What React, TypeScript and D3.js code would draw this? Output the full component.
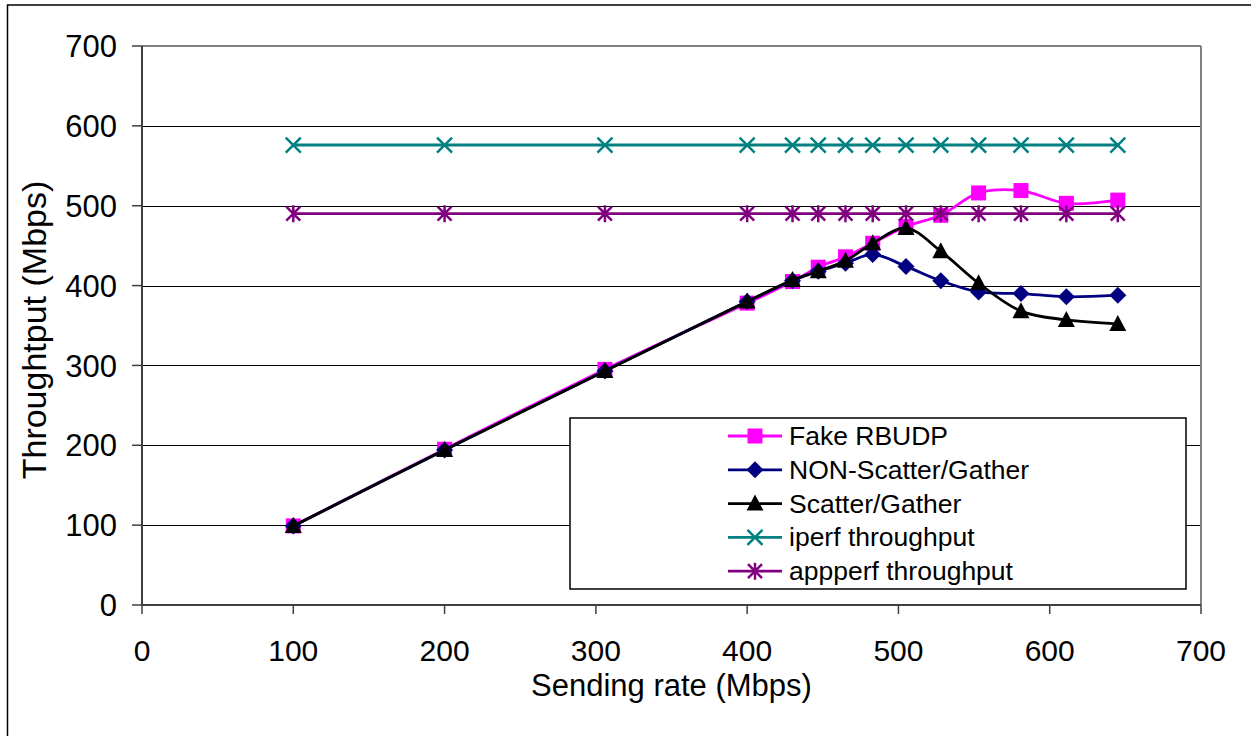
import React from "react";
import * as d3 from "d3";

const sendingRate = [100, 200, 306, 400, 430, 447, 465, 483, 505, 528, 553, 581, 611, 645];
const fakeRBUDP = [99, 195, 295, 378, 405, 423, 436, 453, 474, 488, 516, 519, 503, 507];
const nonScatterGather = [99, 194, 293, 380, 406, 418, 428, 439, 424, 406, 392, 390, 386, 388];
const scatterGather = [99, 194, 293, 380, 407, 418, 431, 453, 472, 443, 403, 368, 357, 352];
const iperfThroughput = [576, 576, 576, 576, 576, 576, 576, 576, 576, 576, 576, 576, 576, 576];
const appperfThroughput = [490, 490, 490, 490, 490, 490, 490, 490, 490, 490, 490, 490, 490, 490];

const xTicks = [0, 100, 200, 300, 400, 500, 600, 700];
const yTicks = [0, 100, 200, 300, 400, 500, 600, 700];

const seriesNames = ["Fake RBUDP", "NON-Scatter/Gather", "Scatter/Gather", "iperf throughput", "appperf throughput"];
const seriesValues = [fakeRBUDP, nonScatterGather, scatterGather, iperfThroughput, appperfThroughput];
const seriesColors = ["#FF00FF", "#000080", "#000000", "#008080", "#800080"];
const seriesMarkers = ["square", "diamond", "triangle", "x", "star"];

const FONT = "'Liberation Sans', Arial, sans-serif";

function Marker({ kind, x, y, color }: { kind: string; x: number; y: number; color: string }) {
  if (kind === "square") {
    return <rect x={x - 7.5} y={y - 7.5} width={15} height={15} fill={color} />;
  }
  if (kind === "diamond") {
    return <path d={`M${x},${y - 8.5}L${x + 8.5},${y}L${x},${y + 8.5}L${x - 8.5},${y}Z`} fill={color} />;
  }
  if (kind === "triangle") {
    return <path d={`M${x},${y - 9}L${x + 8.5},${y + 7}L${x - 8.5},${y + 7}Z`} fill={color} />;
  }
  if (kind === "x") {
    return (
      <path
        d={`M${x - 7.5},${y - 7.5}L${x + 7.5},${y + 7.5}M${x - 7.5},${y + 7.5}L${x + 7.5},${y - 7.5}`}
        stroke={color}
        strokeWidth={2.5}
        fill="none"
      />
    );
  }
  return (
    <path
      d={`M${x - 7},${y - 7}L${x + 7},${y + 7}M${x - 7},${y + 7}L${x + 7},${y - 7}M${x},${y - 8.5}L${x},${y + 8.5}`}
      stroke={color}
      strokeWidth={2.5}
      fill="none"
    />
  );
}

export default function App() {
  const left = 142;
  const right = 1201;
  const top = 46;
  const bottom = 605;
  const x = d3.scaleLinear().domain([0, 700]).range([left, right]);
  const y = d3.scaleLinear().domain([0, 700]).range([bottom, top]);
  const line = d3
    .line<[number, number]>()
    .x((d) => x(d[0]))
    .y((d) => y(d[1]))
    .curve(d3.curveCatmullRom.alpha(0.5));

  const legendX = 570;
  const legendY = 418;
  const legendW = 616;
  const legendH = 171;

  return (
    <svg
      width={1251}
      height={736}
      style={{ position: "fixed", left: 0, top: 0, background: "#fff" }}
      fontFamily={FONT}
    >
      <rect x={0} y={0} width={1251} height={736} fill="#fff" />
      {/* outer frame */}
      <rect x={7.5} y={5} width={1300} height={800} fill="none" stroke="#000" strokeWidth={1.5} />

      {/* gridlines */}
      {yTicks
        .filter((t) => t > 0 && t < 700)
        .map((t) => (
          <line key={t} x1={left} x2={right} y1={Math.round(y(t)) + 0.5} y2={Math.round(y(t)) + 0.5} stroke="#000" strokeWidth={1} />
        ))}
      {/* plot border top/right */}
      <line x1={left} x2={right} y1={y(700)} y2={y(700)} stroke="#808080" strokeWidth={2} />
      <line x1={right} x2={right} y1={top} y2={bottom} stroke="#808080" strokeWidth={2} />

      {/* axes */}
      <line x1={left} x2={left} y1={top} y2={bottom} stroke="#404040" strokeWidth={2} />
      <line x1={left} x2={right} y1={bottom} y2={bottom} stroke="#404040" strokeWidth={2} />
      {yTicks.map((t) => (
        <g key={"yt" + t}>
          <line x1={132} x2={left} y1={y(t)} y2={y(t)} stroke="#404040" strokeWidth={1.5} />
          <text x={117} y={y(t)} dy="0.36em" textAnchor="end" fontSize={31} fill="#000">
            {t}
          </text>
        </g>
      ))}
      {xTicks.map((t) => (
        <g key={"xt" + t}>
          <line x1={x(t)} x2={x(t)} y1={bottom} y2={614} stroke="#404040" strokeWidth={1.5} />
          <text x={x(t)} y={660.5} textAnchor="middle" fontSize={30} fill="#000">
            {t}
          </text>
        </g>
      ))}

      {/* axis titles */}
      <text x={(left + right) / 2} y={696} textAnchor="middle" fontSize={31} fill="#000">
        Sending rate (Mbps)
      </text>
      <text
        transform={`translate(46,330) rotate(-90)`}
        textAnchor="middle"
        fontSize={34}
        fill="#000"
      >
        Throughtput (Mbps)
      </text>

      {/* series */}
      {seriesValues.map((vals, i) => {
        const pts: [number, number][] = sendingRate.map((r, j) => [r, vals[j]]);
        return (
          <g key={"s" + i}>
            <path d={line(pts) || ""} fill="none" stroke={seriesColors[i]} strokeWidth={2.8} />
            {pts.map((p, j) => (
              <Marker key={j} kind={seriesMarkers[i]} x={x(p[0])} y={y(p[1])} color={seriesColors[i]} />
            ))}
          </g>
        );
      })}

      {/* legend */}
      <rect x={legendX} y={legendY} width={legendW} height={legendH} fill="#fff" stroke="#000" strokeWidth={1.5} />
      {seriesNames.map((name, i) => {
        const base = 445 + i * 33.8;
        const cy = base - 9;
        return (
          <g key={"l" + i}>
            <line x1={728} x2={782} y1={cy} y2={cy} stroke={seriesColors[i]} strokeWidth={2.8} />
            <Marker kind={seriesMarkers[i]} x={755} y={cy} color={seriesColors[i]} />
            <text x={789} y={base} fontSize={26.5} fill="#000">
              {name}
            </text>
          </g>
        );
      })}
    </svg>
  );
}
